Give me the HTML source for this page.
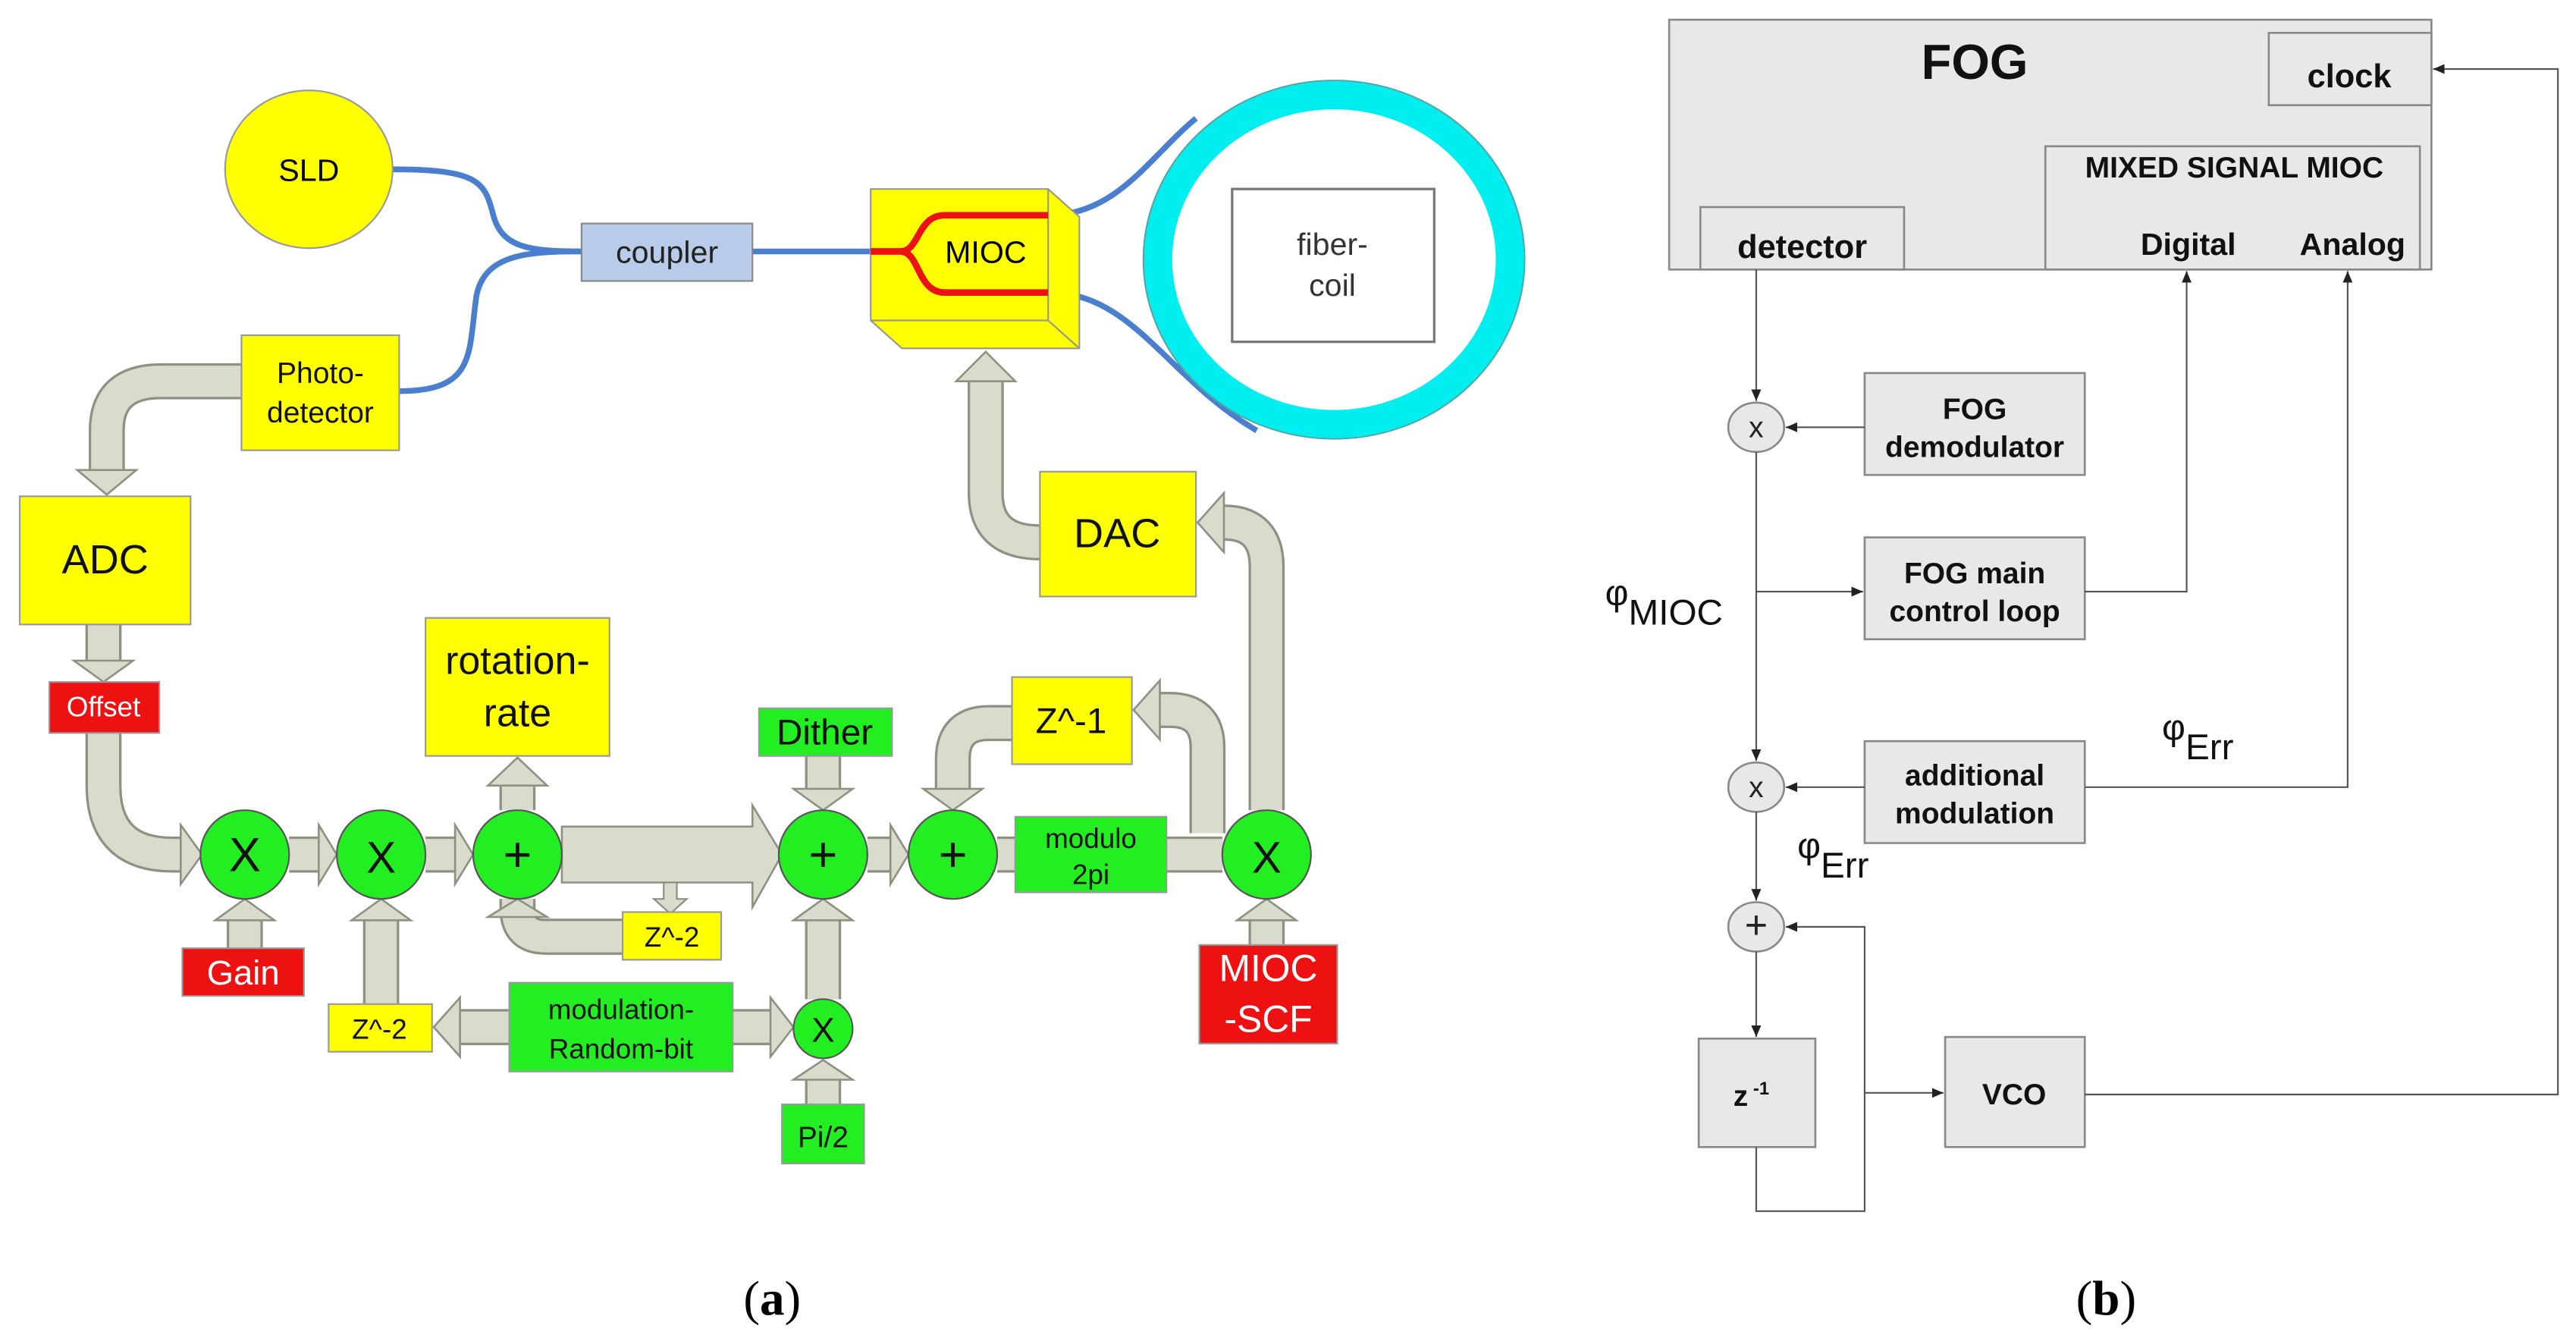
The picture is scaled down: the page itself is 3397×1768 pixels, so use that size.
<!DOCTYPE html>
<html><head><meta charset="utf-8"><style>
html,body{margin:0;padding:0;background:#fff;}
svg{display:block;}
text{font-family:"Liberation Sans",Arial,sans-serif;}
.b text{font-weight:bold;}
</style></head><body>
<svg width="3397" height="1768" viewBox="0 0 1568 816" preserveAspectRatio="none" xmlns="http://www.w3.org/2000/svg">
<defs>
<marker id="ah" markerWidth="8" markerHeight="8" refX="7" refY="4" orient="auto" markerUnits="userSpaceOnUse"><path d="M0,1 L7,4 L0,7 z" fill="#222"/></marker>
</defs>
<rect width="1568" height="816" fill="#fff"/>

<!-- ===== Panel A ===== -->
<g fill="none" stroke="#4a7fd0" stroke-width="3.5">
<path d="M238,103 C290,103 295,110 300,130 C305,150 320,153 354,153"/>
<path d="M243,238 C290,238 285,215 290,180 C295,155 320,153 354,153"/>
<path d="M458,153 L532,153"/>
<path d="M638,131 C680,131 700,95 728,72"/>
<path d="M638,178 C690,178 710,230 765,262"/>
</g>
<ellipse cx="188" cy="103" rx="51" ry="48" fill="#ffff00" stroke="#999" stroke-width="1"/>
<text x="188" y="110" font-size="19" text-anchor="middle">SLD</text>
<rect x="354" y="136" width="104" height="35" fill="#b8cbe8" stroke="#888"/>
<text x="406" y="160" font-size="19" text-anchor="middle" fill="#222">coupler</text>

<ellipse cx="812" cy="158" rx="107" ry="100" fill="none" stroke="#00eef0" stroke-width="17"/>
<ellipse cx="812" cy="158" rx="116" ry="109" fill="none" stroke="#4aa" stroke-width="1"/>
<rect x="750" y="115" width="123" height="93" fill="#fff" stroke="#777" stroke-width="1.5"/>
<text x="811" y="155" font-size="19" text-anchor="middle" fill="#333">fiber-</text>
<text x="811" y="180" font-size="19" text-anchor="middle" fill="#333">coil</text>

<g stroke="#998" stroke-width="1" fill="#ffff00">
<polygon points="530,115 638,115 657,132 657,212 549,212 530,195"/>
<line x1="638" y1="115" x2="638" y2="195"/>
<line x1="530" y1="195" x2="638" y2="195"/>
<line x1="638" y1="195" x2="657" y2="212"/>
</g>
<path d="M530,153 L548,153 C560,153 558,131 575,131 L638,131 M548,153 C560,153 558,178 575,178 L638,178" fill="none" stroke="#ee1111" stroke-width="4"/>
<text x="600" y="160" font-size="19" text-anchor="middle">MIOC</text>

<g fill="none" stroke-linejoin="round">
<g stroke="#8e9080" stroke-width="22">
<path d="M147,232 L98,232 Q65,232 65,262 L65,288"/>
<path d="M63,380 L63,404"/>
<path d="M63,446 L63,478 Q63,520 105,520 L112,520"/>
<path d="M176,520 L196,520"/>
<path d="M259,520 L279,520"/>
<path d="M315,493 L315,476"/>
<path d="M315,547 L315,553 Q315,570 332,570 L379,570"/>
<path d="M501,460 L501,481"/>
<path d="M528,520 L544,520"/>
<path d="M616,440 L602,440 Q580,440 580,462 L580,480"/>
<path d="M607,520 L618,520 M710,520 L744,520"/>
<path d="M735,507 L735,455 Q735,432 712,432 L704,432"/>
<path d="M771,493 L771,345 Q771,318 745,318 L742,318"/>
<path d="M771,575 L771,560"/>
<path d="M633,330 Q600,330 600,300 L600,230"/>
<path d="M149,577 L149,560"/>
<path d="M232,611 L232,560"/>
<path d="M310,625 L278,625"/>
<path d="M446,625 L470,625"/>
<path d="M501,672 L501,657"/>
<path d="M501,608 L501,560"/>
</g>
<g stroke="#d9dbcc" stroke-width="19">
<path d="M147,232 L98,232 Q65,232 65,262 L65,288"/>
<path d="M63,380 L63,404"/>
<path d="M63,446 L63,478 Q63,520 105,520 L112,520"/>
<path d="M176,520 L196,520"/>
<path d="M259,520 L279,520"/>
<path d="M315,493 L315,476"/>
<path d="M315,547 L315,553 Q315,570 332,570 L379,570"/>
<path d="M501,460 L501,481"/>
<path d="M528,520 L544,520"/>
<path d="M616,440 L602,440 Q580,440 580,462 L580,480"/>
<path d="M607,520 L618,520 M710,520 L744,520"/>
<path d="M735,507 L735,455 Q735,432 712,432 L704,432"/>
<path d="M771,493 L771,345 Q771,318 745,318 L742,318"/>
<path d="M771,575 L771,560"/>
<path d="M633,330 Q600,330 600,300 L600,230"/>
<path d="M149,577 L149,560"/>
<path d="M232,611 L232,560"/>
<path d="M310,625 L278,625"/>
<path d="M446,625 L470,625"/>
<path d="M501,672 L501,657"/>
<path d="M501,608 L501,560"/>
</g>
</g>
<polygon points="342,503 458,503 458,490 476,520 458,552 458,537 342,537" fill="#d9dbcc" stroke="#8e9080" stroke-width="1.2"/>
<polygon points="404,537 412,537 412,547 418,547 408,556 398,547 404,547" fill="#d9dbcc" stroke="#8e9080" stroke-width="1"/>
<g fill="#d9dbcc" stroke="#8e9080" stroke-width="1.2">
<polygon points="47,286 83,286 65,301"/>
<polygon points="45,402 81,402 63,415"/>
<polygon points="110,502 110,538 123,520"/>
<polygon points="194,502 194,538 205,520"/>
<polygon points="277,502 277,538 288,520"/>
<polygon points="297,478 333,478 315,461"/>
<polygon points="297,558 333,558 315,547"/>
<polygon points="483,480 519,480 501,493"/>
<polygon points="542,502 542,538 553,520"/>
<polygon points="562,480 598,480 580,493"/>
<polygon points="706,414 706,450 690,432"/>
<polygon points="745,300 745,336 729,318"/>
<polygon points="753,560 789,560 771,547"/>
<polygon points="582,232 618,232 600,214"/>
<polygon points="131,560 167,560 149,547"/>
<polygon points="214,560 250,560 232,547"/>
<polygon points="280,607 280,643 264,625"/>
<polygon points="469,607 469,643 483,625"/>
<polygon points="483,657 519,657 501,645"/>
<polygon points="483,560 519,560 501,547"/>
</g>

<g stroke="#999" stroke-width="1">
<rect x="147" y="204" width="96" height="70" fill="#ffff00"/>
<rect x="12" y="302" width="104" height="78" fill="#ffff00"/>
<rect x="30" y="415" width="67" height="31" fill="#ee1111"/>
<rect x="259" y="376" width="112" height="84" fill="#ffff00"/>
<rect x="462" y="431" width="81" height="29" fill="#22ee22"/>
<rect x="616" y="412" width="73" height="53" fill="#ffff00"/>
<rect x="618" y="497" width="92" height="46" fill="#22ee22"/>
<rect x="379" y="555" width="60" height="29" fill="#ffff00"/>
<rect x="111" y="577" width="74" height="29" fill="#ee1111"/>
<rect x="200" y="611" width="63" height="29" fill="#ffff00"/>
<rect x="310" y="598" width="136" height="54" fill="#22ee22"/>
<rect x="476" y="672" width="50" height="36" fill="#22ee22"/>
<rect x="730" y="575" width="84" height="60" fill="#ee1111"/>
<rect x="633" y="287" width="95" height="76" fill="#ffff00"/>
</g>
<g fill="#22ee22" stroke="#555" stroke-width="1">
<circle cx="149" cy="520" r="27"/>
<circle cx="232" cy="520" r="27"/>
<circle cx="315" cy="520" r="27"/>
<circle cx="501" cy="520" r="27"/>
<circle cx="580" cy="520" r="27"/>
<circle cx="771" cy="520" r="27"/>
<circle cx="501" cy="626" r="18"/>
</g>
<g text-anchor="middle" fill="#111">
<text x="195" y="233" font-size="18">Photo-</text>
<text x="195" y="257" font-size="18">detector</text>
<text x="64" y="349" font-size="25">ADC</text>
<text x="63" y="436" font-size="17" fill="#fff">Offset</text>
<text x="315" y="410" font-size="24">rotation-</text>
<text x="315" y="442" font-size="24">rate</text>
<text x="502" y="453" font-size="22">Dither</text>
<text x="652" y="446" font-size="22">Z^-1</text>
<text x="664" y="516" font-size="17">modulo</text>
<text x="664" y="538" font-size="17">2pi</text>
<text x="409" y="576" font-size="17">Z^-2</text>
<text x="148" y="599" font-size="21" fill="#fff">Gain</text>
<text x="231" y="632" font-size="17">Z^-2</text>
<text x="378" y="620" font-size="17">modulation-</text>
<text x="378" y="644" font-size="17">Random-bit</text>
<text x="501" y="698" font-size="18">Pi/2</text>
<text x="772" y="597" font-size="23" fill="#fff">MIOC</text>
<text x="772" y="628" font-size="23" fill="#fff">-SCF</text>
<text x="680" y="333" font-size="25">DAC</text>
<text x="149" y="530" font-size="29">X</text>
<text x="232" y="531" font-size="27">X</text>
<text x="315" y="530" font-size="30">+</text>
<text x="501" y="530" font-size="30">+</text>
<text x="580" y="530" font-size="30">+</text>
<text x="771" y="531" font-size="27">X</text>
<text x="501" y="634" font-size="21">X</text>
</g>
<text x="470" y="800" font-size="30" text-anchor="middle" style="font-family:'Liberation Serif',serif">(<tspan font-weight="bold">a</tspan>)</text>

<!-- ===== Panel B ===== -->
<g stroke="#888" stroke-width="1.2" fill="#e8e8e8">
<rect x="1016" y="12" width="464" height="152"/>
<rect x="1381" y="20" width="99" height="44"/>
<rect x="1245" y="89" width="228" height="75"/>
<rect x="1035" y="126" width="124" height="38"/>
<rect x="1135" y="227" width="134" height="62"/>
<rect x="1135" y="327" width="134" height="62"/>
<rect x="1135" y="451" width="134" height="62"/>
<rect x="1034" y="632" width="71" height="66"/>
<rect x="1184" y="631" width="85" height="67"/>
<ellipse cx="1069" cy="260" rx="17" ry="15"/>
<ellipse cx="1069" cy="479" rx="17" ry="15"/>
<ellipse cx="1069" cy="564" rx="17" ry="15"/>
</g>
<g fill="none" stroke="#555" stroke-width="1">
<path d="M1069,164 L1069,244" marker-end="url(#ah)"/>
<path d="M1135,260 L1087,260" marker-end="url(#ah)"/>
<path d="M1069,275 L1069,463" marker-end="url(#ah)"/>
<path d="M1069,360 L1134,360" marker-end="url(#ah)"/>
<path d="M1269,360 L1331,360 L1331,165" marker-end="url(#ah)"/>
<path d="M1135,479 L1087,479" marker-end="url(#ah)"/>
<path d="M1269,479 L1429,479 L1429,165" marker-end="url(#ah)"/>
<path d="M1069,494 L1069,548" marker-end="url(#ah)"/>
<path d="M1069,579 L1069,631" marker-end="url(#ah)"/>
<path d="M1069,698 L1069,737 L1135,737 L1135,564 L1087,564" marker-end="url(#ah)"/>
<path d="M1135,665 L1183,665" marker-end="url(#ah)"/>
<path d="M1269,666 L1557,666 L1557,42 L1481,42" marker-end="url(#ah)"/>
</g>
<g class="b" text-anchor="middle" fill="#111">
<text x="1202" y="48" font-size="30">FOG</text>
<text x="1430" y="53" font-size="20">clock</text>
<text x="1360" y="108" font-size="18">MIXED SIGNAL MIOC</text>
<text x="1332" y="155" font-size="19">Digital</text>
<text x="1432" y="155" font-size="19">Analog</text>
<text x="1097" y="157" font-size="20">detector</text>
<text x="1202" y="255" font-size="18">FOG</text>
<text x="1202" y="278" font-size="18">demodulator</text>
<text x="1202" y="355" font-size="18">FOG main</text>
<text x="1202" y="378" font-size="18">control loop</text>
<text x="1202" y="478" font-size="18">additional</text>
<text x="1202" y="501" font-size="18">modulation</text>
<text x="1066" y="673" font-size="18">z<tspan font-size="11" dy="-7"> -1</tspan></text>
<text x="1226" y="672" font-size="18">VCO</text>
</g>
<g fill="#111" font-size="22">
<text x="977" y="368">φ<tspan dy="12">MIOC</tspan></text>
<text x="1316" y="450">φ<tspan dy="12">Err</tspan></text>
<text x="1094" y="522">φ<tspan dy="12">Err</tspan></text>
</g>
<g fill="#222" font-size="18" text-anchor="middle">
<text x="1069" y="266">x</text>
<text x="1069" y="485">x</text>
<text x="1069" y="571" font-size="24">+</text>
</g>
<text x="1282" y="800" font-size="30" text-anchor="middle" style="font-family:'Liberation Serif',serif">(<tspan font-weight="bold">b</tspan>)</text>
</svg>
</body></html>
